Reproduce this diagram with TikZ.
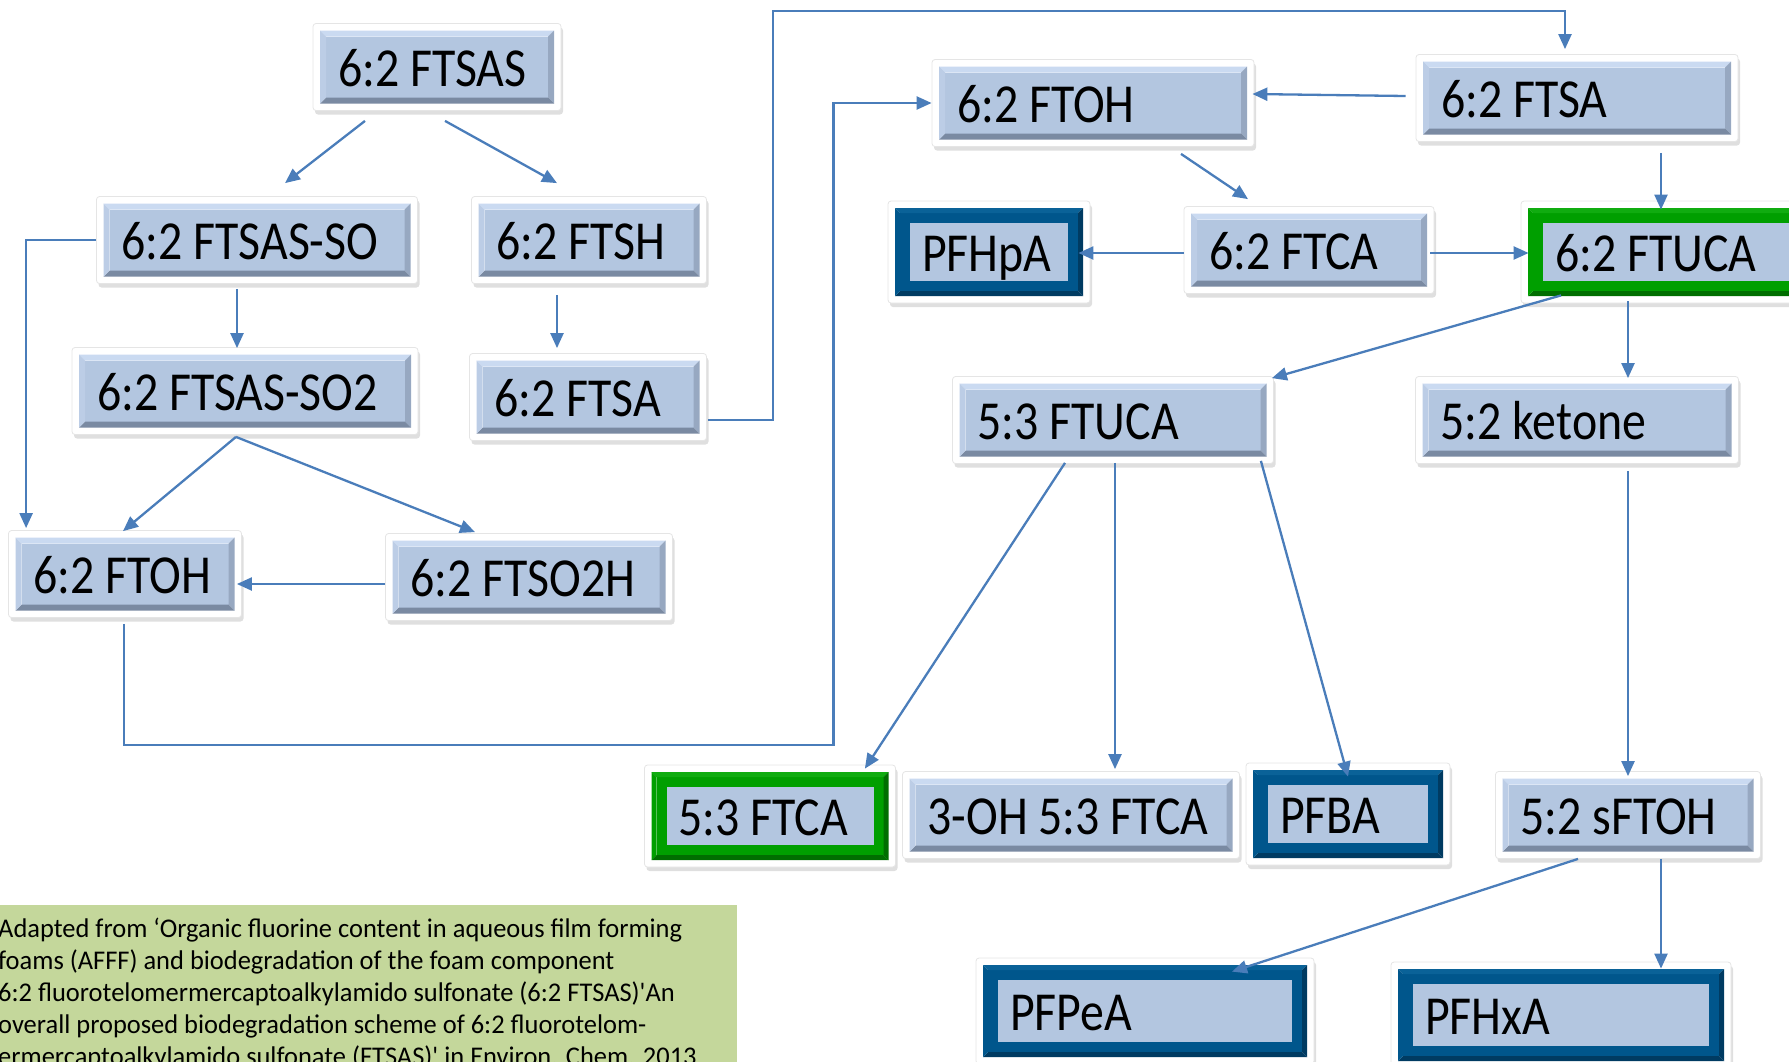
\documentclass[tikz,border=0pt]{standalone}
\usepackage{fontspec}
\setmainfont{Carlito}[FakeStretch=0.87]
\newfontfamily\notefont{Carlito}[FakeStretch=0.98]
\usepackage{xcolor}
\usepackage{tikz}
\usetikzlibrary{arrows.meta}
\usetikzlibrary{shadows}
\usetikzlibrary{calc}

\definecolor{face}{HTML}{B3C6E0}
\definecolor{bevtop}{HTML}{CADAF1}
\definecolor{bevleft}{HTML}{BCCDE6}
\definecolor{bevright}{HTML}{97A8C1}
\definecolor{bevbot}{HTML}{7A8AA2}
\definecolor{fateblue}{HTML}{00568C}
\definecolor{fatebluedk}{HTML}{003B62}
\definecolor{fatebluelt}{HTML}{0A6298}
\definecolor{keepgreen}{HTML}{009F00}
\definecolor{keepgreendk}{HTML}{006E00}
\definecolor{keepgreenlt}{HTML}{10AC10}
\definecolor{link}{HTML}{4A7DBA}
\definecolor{notegreen}{HTML}{C4D79B}

\newcommand{\bevel}[7]{%
  \coordinate (bvA) at ([shift={(#1,-#1)}]path picture bounding box.north west);
  \coordinate (bvC) at ([shift={(-#1,#1)}]path picture bounding box.south east);
  \coordinate (bvB) at (bvA -| bvC);
  \coordinate (bvD) at (bvA |- bvC);
  \coordinate (bva) at ([shift={(#2,-#2)}]bvA);
  \coordinate (bvc) at ([shift={(-#2,#2)}]bvC);
  \coordinate (bvb) at (bva -| bvc);
  \coordinate (bvd) at (bva |- bvc);
  \fill[#3, sharp corners] (bva) rectangle (bvc);
  \fill[#4, sharp corners] (bvA) -- (bvB) -- (bvb) -- (bva) -- cycle;
  \fill[#6, sharp corners] (bvB) -- (bvC) -- (bvc) -- (bvb) -- cycle;
  \fill[#7, sharp corners] (bvC) -- (bvD) -- (bvd) -- (bvc) -- cycle;
  \fill[#5, sharp corners] (bvD) -- (bvA) -- (bva) -- (bvd) -- cycle;
}

\tikzset{
  chem/.style={rectangle, rounded corners=3pt, fill=white, draw=black!10, line width=0.8pt,
    drop shadow={shadow xshift=2pt, shadow yshift=-4pt, opacity=0.25},
    inner xsep=25pt, inner ysep=0pt, minimum height=87pt, text height=38pt, text depth=0pt,
    align=flush left, font=\fontsize{55}{60}\selectfont,
    path picture={\bevel{7pt}{6pt}{face}{bevtop}{bevleft}{bevright}{bevbot}}},
  ring/.style={chem, inner xsep=34pt, minimum height=102pt,
    path picture={\bevel{7pt}{5pt}{#1}{#1lt}{#1}{#1dk}{#1dk}
      \fill[face, sharp corners] ([shift={(22pt,-22pt)}]path picture bounding box.north west)
        rectangle ([shift={(-22pt,22pt)}]path picture bounding box.south east);}},
  note/.style={rectangle, fill=notegreen, anchor=north west, inner xsep=6pt, inner ysep=0pt,
    align=flush left, font=\notefont\fontsize{27}{32}\selectfont},
  link line/.style={draw=link, line width=2.3pt},
}

\begin{document}
\begin{tikzpicture}[x=1pt, y=-1pt]
    \useasboundingbox (0,0) rectangle (1789,1061);
    \clip (0,0) rectangle (1789,1061);
    \node[note, text width=733pt, minimum height=170pt, text height=27pt] (note) at (-8,905)
      {Adapted from ‘Organic fluorine content in aqueous film forming\\
       foams (AFFF) and biodegradation of the foam component\\
       6:2 fluorotelomermercaptoalkylamido sulfonate (6:2 FTSAS)\textquotesingle An\\
       overall proposed biodegradation scheme of 6:2 fluorotelom-\\
       ermercaptoalkylamido sulfonate (FTSAS)\textquotesingle{} in Environ. Chem. 2013};

    \node[chem, text width=198pt] (ftsas) at (437,67) {6:2 FTSAS};
    \node[chem, text width=271pt] (ftsasso) at (257,240) {6:2 FTSAS-SO};
    \node[chem, text width=185pt] (ftsh) at (589,240) {6:2 FTSH};
    \node[chem, text width=296pt] (so2) at (245,391) {6:2 FTSAS-SO2};
    \node[chem, text width=187pt] (ftsal) at (588,397) {6:2 FTSA};
    \node[chem, text width=183pt] (ftohl) at (125,574) {6:2 FTOH};
    \node[chem, text width=237pt] (ftso2h) at (529,577) {6:2 FTSO2H};
    \node[chem, text width=272pt] (ftoht) at (1093,103) {6:2 FTOH};
    \node[chem, text width=272pt] (ftsat) at (1577,98) {6:2 FTSA};
    \node[ring=fateblue, text width=134pt] (pfhpa) at (989,252) {PFHpA};
    \node[chem, text width=200pt] (ftca) at (1309,250) {6:2 FTCA};
    \node[ring=keepgreen, text width=222pt] (ftuca) at (1666,252) {6:2 FTUCA};
    \node[chem, text width=271pt] (ftucb) at (1113,420) {5:3 FTUCA};
    \node[chem, text width=273pt] (ketone) at (1577,420) {5:2 ketone};
    \node[ring=keepgreen, text width=183pt] (ftcb) at (770,816) {5:3 FTCA};
    \node[chem, text width=287pt] (ohftca) at (1071,815) {3-OH 5:3 FTCA};
    \node[ring=fateblue, text width=136pt] (pfba) at (1348,814) {PFBA};
    \node[chem, text width=215pt] (sftoh) at (1628,815) {5:2 sFTOH};
    \node[ring=fateblue, text width=270pt, minimum height=106pt] (pfpea) at (1145,1011) {PFPeA};
    \node[ring=fateblue, text width=272pt, minimum height=106pt] (pfhxa) at (1561,1015) {PFHxA};

    \begin{scope}[every edge/.style={link line, -{Triangle[length=15pt,width=13pt]}}]
    \path ($(ftsas.south)+(-72,10)$) edge ($(ftsasso.north)+(28,-13)$);
    \path ($(ftsas.south)+(8,10)$) edge ($(ftsh.north)+(-32,-13)$);
    \path ($(ftsasso.south)+(-20,5)$) edge ($(so2.north)+(-8,1)$);
    \path ($(ftsh.south)+(-32,11)$) edge ($(ftsal.north)+(-31,-5)$);
    \path ($(so2.south)+(-9,2)$) edge ($(ftohl.north)+(-2,1)$);
    \path ($(so2.south)+(-9,2)$) edge ($(ftso2h.north)+(-54,-1)$);
    \path ($(ftso2h.west)+(0,7)$) edge ($(ftohl.east)+(-5,10)$);
    \path ($(ftsat.west)+(-10,-2)$) edge ($(ftoht.east)+(-2,-9)$);
    \path ($(ftoht.south)+(88,7)$) edge ($(ftca.north)+(-61,-7)$);
    \path ($(ftca.west)+(0,3)$) edge ($(pfhpa.east)+(-12,1)$);
    \path ($(ftca.east)+(-4,3)$) edge ($(ftuca.west)+(8,1)$);
    \path ($(ftsat.south)+(84,11)$) edge ($(ftuca.north)+(-5,9)$);
    \path ($(ftuca.south)+(-105,-8)$) edge ($(ftucb.north east)+(-2,2)$);
    \path ($(ftuca.south)+(-38,-2)$) edge ($(ketone.north)+(51,2)$);
    \path ($(ftucb.south)+(-48,-1)$) edge ($(ftcb.north east)+(-31,4)$);
    \path ($(ftucb.south)+(2,-1)$) edge ($(ohftca.north)+(44,-2)$);
    \path ($(ftucb.south east)+(-13,-3)$) edge ($(pfba.north)+(0,14)$);
    \path ($(ketone.south)+(51,7)$) edge ($(sftoh.north)+(0,5)$);
    \path ($(sftoh.south)+(-50,0)$) edge ($(pfpea.north)+(87,14)$);
    \path ($(sftoh.south)+(33,0)$) edge ($(pfhxa.north)+(100,7)$);
    \end{scope}

    \draw[link line, -{Triangle[length=15pt,width=13pt]}] (ftsasso.west) -| ($(ftohl.north west)+(18,-2)$);
    \draw[link line, -{Triangle[length=15pt,width=13pt]}] ($(ftohl.south)+(-1,6)$) -- ++(0,121) -| ($(ftoht.west)+(-98,0)$) -- (ftoht.west);
    \draw[link line, -{Triangle[length=15pt,width=13pt]}] ($(ftsal.east)+(1,23)$) -- ++(65,0) |- ($(ftsat.north)+(-12,-43)$) -- ($(ftsat.north)+(-12,-5)$);
\end{tikzpicture}
\end{document}
